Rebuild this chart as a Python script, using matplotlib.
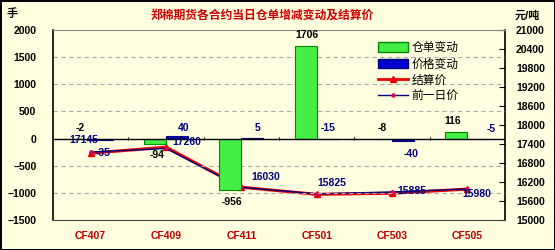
import matplotlib
matplotlib.use("Agg")
import matplotlib.pyplot as plt
import numpy as np
from matplotlib.patches import Patch
from matplotlib.lines import Line2D

plt.rcParams['font.family'] = ['Liberation Sans', 'Noto Sans CJK SC', 'DejaVu Sans']
plt.rcParams['axes.unicode_minus'] = True

# data
contracts = ["CF407", "CF409", "CF411", "CF501", "CF503", "CF505"]
warrant_change = [-2, -94, -956, 1706, -8, 116]
price_change = [-35, 40, 5, -15, -40, -5]
prev_price = [17145, 17260, 16030, 15825, 15885, 15980]
settle_price = [p + d for p, d in zip(prev_price, price_change)]

# label placement (category offset, left-axis y) - layout only
warrant_lbl_pos = [(-0.14, 195), (-0.12, -300), (-0.12, -1170), (-0.13, 1900), (-0.13, 195), (-0.19, 320)]
price_lbl_pos = [(0.16, -265), (0.23, 195), (0.22, 195), (0.15, 195), (0.25, -285), (0.32, 175)]
prev_lbl_pos = [(-0.09, -25), (0.27, -60), (0.33, -710), (0.2, -820), (0.27, -960), (0.13, -1020)]

bg = "#FFFFE0"
navy = "#000080"

fig = plt.figure(figsize=(5.55, 2.5), dpi=100, facecolor=bg)
fig.patch.set_edgecolor("black")
fig.patch.set_linewidth(2)
ax = fig.add_axes([53 / 555, 1 - 220 / 250, 452 / 555, 190 / 250])
ax.set_facecolor(bg)
ax2 = ax.twinx()

x = np.arange(len(contracts))
w = 0.29
ax.bar(x - w / 2, warrant_change, w, color="#44EE44", edgecolor="#008800", linewidth=0.8, zorder=3)
ax.bar(x + w / 2, price_change, w, color="#0000CC", edgecolor=navy, linewidth=0.8, zorder=3)

ax.set_xlim(-0.5, len(contracts) - 0.5)
ax.set_ylim(-1500, 2000)
ax.set_yticks(np.arange(-1500, 2001, 500))
for v in [-1000, -500, 500, 1000, 1500]:
    ax.axhline(v, color="#AAAAAA", lw=0.8, ls=(0, (4, 3)), zorder=1)
ax.axhline(0, color="black", lw=1, zorder=4)
ax.vlines(np.arange(0.5, len(contracts) - 0.5), -25, 25, color="black", lw=0.8, zorder=4)

ax.set_xticks(x)
ax.set_xticklabels(contracts, color="#BB0000", fontweight="bold", fontsize=7.5)
ax.tick_params(axis="x", length=0, pad=8)
ax.tick_params(axis="y", length=0, pad=12, labelsize=7.5)
for t in ax.get_yticklabels():
    t.set_fontweight("bold")

ax.spines["left"].set_color("black")
ax.spines["left"].set_linewidth(1.2)
ax.spines["top"].set_color("#888888")
ax.spines["bottom"].set_color("#444444")
ax.spines["right"].set_visible(False)

ax2.plot(x, settle_price, color="#EE0000", lw=2.2, marker="^", markersize=5, zorder=3)
ax2.plot(x, prev_price, color=navy, lw=1, marker="o", markersize=2.2,
         markerfacecolor="#DD0055", markeredgecolor="#DD0055", zorder=4)
ax2.set_ylim(15000, 21000)
ax2.set_yticks(np.arange(15000, 21001, 600))
ax2.tick_params(axis="y", direction="in", length=4, pad=8, labelsize=7.5)
for t in ax2.get_yticklabels():
    t.set_fontweight("bold")
ax2.spines["right"].set_color("black")
ax2.spines["right"].set_linewidth(1.2)
for s in ["top", "bottom", "left"]:
    ax2.spines[s].set_visible(False)

for i in range(len(contracts)):
    dx, dy = warrant_lbl_pos[i]
    ax.text(i + dx, dy, str(warrant_change[i]), ha="center", va="center",
            fontsize=7.5, fontweight="bold", color="black", zorder=6)
    dx, dy = price_lbl_pos[i]
    ax.text(i + dx, dy, str(price_change[i]), ha="center", va="center",
            fontsize=7.5, fontweight="bold", color=navy, zorder=6)
    dx, dy = prev_lbl_pos[i]
    ax.text(i + dx, dy, str(prev_price[i]), ha="center", va="center",
            fontsize=7.5, fontweight="bold", color=navy, zorder=6)
ax.set_zorder(ax2.get_zorder() + 1)
ax.patch.set_visible(False)
ax2.patch.set_visible(True)
ax2.patch.set_facecolor(bg)

handles = [
    Patch(facecolor="#44EE44", edgecolor="#008800", label="仓单变动"),
    Patch(facecolor="#0000CC", edgecolor=navy, label="价格变动"),
    Line2D([], [], color="#EE0000", lw=2, marker="^", markersize=5, label="结算价"),
    Line2D([], [], color=navy, lw=1, marker="o", markersize=2.2,
           markerfacecolor="#DD0055", markeredgecolor="#DD0055", label="前一日价"),
]
fig.legend(handles=handles, loc="upper left", bbox_to_anchor=(370 / 555, 1 - 34 / 250),
           frameon=False, fontsize=8.5, handlelength=2.5, handleheight=0.85,
           labelspacing=0.35, handletextpad=0.3, borderpad=0.2)

fig.text(262 / 555, 1 - 16 / 250, "郑棉期货各合约当日仓单增减变动及结算价", ha="center", va="center",
         color="#CC0000", fontsize=8.5, fontweight="bold")
fig.text(12 / 555, 1 - 14 / 250, "手", ha="center", va="center", fontsize=8, fontweight="bold")
fig.text(527 / 555, 1 - 16 / 250, "元/吨", ha="center", va="center", fontsize=8, fontweight="bold")

fig.savefig("out.png", dpi=100, facecolor=bg, edgecolor="black")
